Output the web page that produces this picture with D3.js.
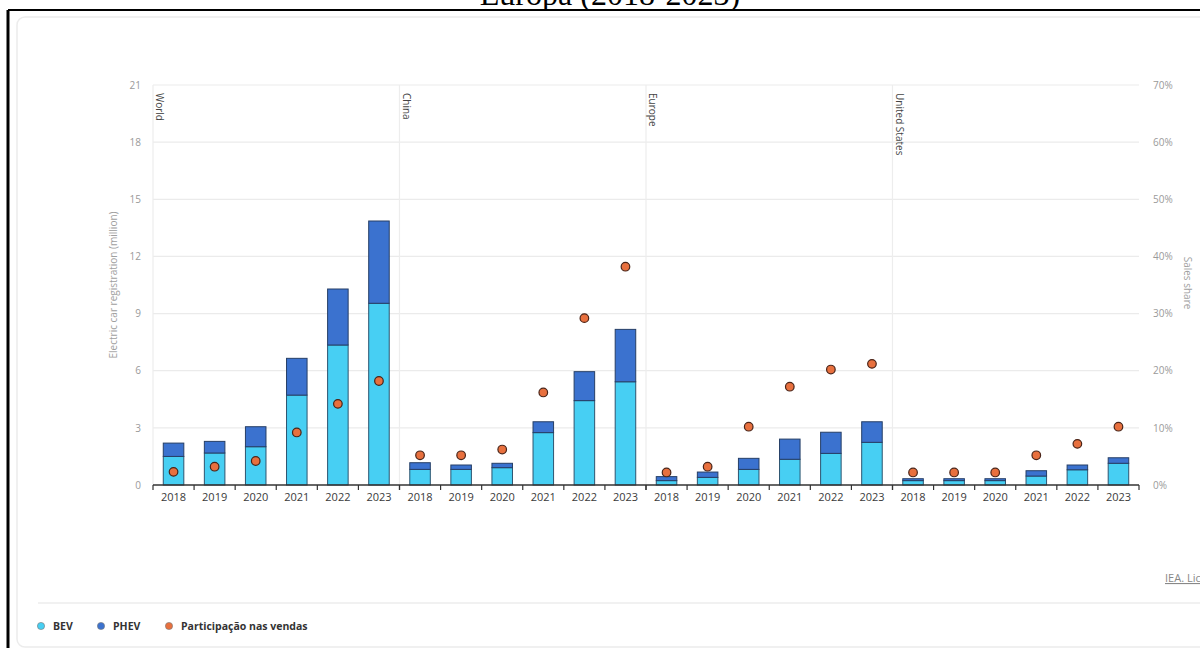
<!DOCTYPE html>
<html>
<head>
<meta charset="utf-8">
<script src="https://cdn.jsdelivr.net/npm/d3@7"></script>
<style>
  html, body { margin: 0; padding: 0; background: #fff; }
  svg { display: block; }
</style>
</head>
<body>
<svg id="chart" width="1200" height="648"></svg>
<script>
// Regions and years along the x axis
const regions = ["World", "China", "Europe", "United States"];
const years = ["2018", "2019", "2020", "2021", "2022", "2023"];

// BEV registrations (million), region by region, 2018-2023
const bev = [
  1.50, 1.68, 2.01, 4.72, 7.35, 9.54,   // World
  0.82, 0.82, 0.91, 2.75, 4.43, 5.42,   // China
  0.23, 0.40, 0.82, 1.35, 1.66, 2.24,   // Europe
  0.23, 0.23, 0.23, 0.47, 0.80, 1.14    // United States
];
// PHEV registrations (million), stacked on top of BEV
const phev = [
  0.70, 0.61, 1.05, 1.93, 2.94, 4.32,
  0.35, 0.23, 0.23, 0.57, 1.52, 2.75,
  0.21, 0.28, 0.58, 1.06, 1.11, 1.08,
  0.10, 0.10, 0.10, 0.28, 0.25, 0.29
];
// Electric car sales share (%)
const share = [
  2.3, 3.2, 4.2, 9.2, 14.2, 18.2,
  5.2, 5.2, 6.2, 16.2, 29.2, 38.2,
  2.2, 3.2, 10.2, 17.2, 20.2, 21.2,
  2.2, 2.2, 2.2, 5.2, 7.2, 10.2
];
const leftTicks = [0, 3, 6, 9, 12, 15, 18, 21];
const rightTicks = [0, 10, 20, 30, 40, 50, 60, 70];
const legendItems = ["BEV", "PHEV", "Participação nas vendas"];

const rows = [];
regions.forEach((r, i) => years.forEach((y, j) => {
  const k = i * years.length + j;
  rows.push({ region: r, year: y, bev: bev[k], phev: phev[k], share: share[k] });
}));

const FONT = "'Open Sans', 'Noto Sans', sans-serif";
const C_BEV = "#47cff3", C_PHEV = "#3b72cf", C_DOT = "#e8703e";
const svg = d3.select("#chart");

// Title line above the frame (partly cut off by the top edge)
svg.append("text")
  .attr("x", 610).attr("y", 5)
  .attr("text-anchor", "middle")
  .attr("font-family", "'Liberation Serif', 'Times New Roman', serif")
  .attr("font-size", 32).attr("fill", "#000")
  .text("Europa (2018-2023)");

// Frame and card
svg.append("rect").attr("x", 8).attr("y", 10).attr("width", 1200).attr("height", 660).attr("fill", "#fff");
svg.append("line").attr("x1", 8).attr("x2", 1200).attr("y1", 10).attr("y2", 10).attr("stroke", "#000").attr("stroke-width", 2);
svg.append("line").attr("x1", 8).attr("x2", 8).attr("y1", 10).attr("y2", 648).attr("stroke", "#000").attr("stroke-width", 3);
svg.append("rect").attr("x", 17).attr("y", 17).attr("width", 1210).attr("height", 630).attr("rx", 8)
  .attr("fill", "#fff").attr("stroke", "#ececec").attr("stroke-width", 1.5);

// Scales
const x0 = 153, x1 = 1139, yBase = 485, yTop = 85;
const xRegion = d3.scaleBand().domain(regions).range([x0, x1]);
const xYear = d3.scaleBand().domain(years).range([0, xRegion.bandwidth()])
  .paddingInner(0.5).paddingOuter(0.25);
const y = d3.scaleLinear().domain([0, 21]).range([yBase, yTop]);
const y2 = d3.scaleLinear().domain([0, 70]).range([yBase, yTop]);

// Horizontal grid
svg.append("g").selectAll("line").data(leftTicks.filter(t => t > 0)).join("line")
  .attr("x1", x0).attr("x2", x1)
  .attr("y1", d => y(d)).attr("y2", d => y(d))
  .attr("stroke", "#ebebeb").attr("stroke-width", 1.2);

// Left axis labels
const gl = svg.append("g").attr("transform", `translate(${x0 - 12},0)`)
  .call(d3.axisLeft(y).tickValues(leftTicks).tickSize(0).tickPadding(0));
gl.select(".domain").remove();
gl.selectAll("text").attr("font-family", FONT).attr("font-size", 10).attr("fill", "#9a9a9a");

// Right axis labels
const gr = svg.append("g").attr("transform", `translate(${x1 + 14},0)`)
  .call(d3.axisRight(y2).tickValues(rightTicks).tickFormat(d => d + "%").tickSize(0).tickPadding(0));
gr.select(".domain").remove();
gr.selectAll("text").attr("font-family", FONT).attr("font-size", 10).attr("fill", "#9a9a9a");

// Axis titles
svg.append("text")
  .attr("transform", `translate(117,${(yBase + yTop) / 2}) rotate(-90)`)
  .attr("text-anchor", "middle")
  .attr("font-family", FONT).attr("font-size", 10).attr("fill", "#a0a0a0")
  .text("Electric car registration (million)");
svg.append("text")
  .attr("transform", `translate(1184,${(yBase + yTop) / 2 - 2}) rotate(90)`)
  .attr("text-anchor", "middle")
  .attr("font-family", FONT).attr("font-size", 10).attr("fill", "#a0a0a0")
  .text("Sales share");

// Region separators and labels
svg.append("g").selectAll("line").data(regions).join("line")
  .attr("x1", d => xRegion(d)).attr("x2", d => xRegion(d))
  .attr("y1", yTop).attr("y2", yBase)
  .attr("stroke", "#ededed").attr("stroke-width", 1.2);
svg.append("g").selectAll("text").data(regions).join("text")
  .attr("transform", d => `translate(${xRegion(d) + 3},${yTop + 8}) rotate(90)`)
  .attr("font-family", FONT).attr("font-size", 10).attr("fill", "#444")
  .text(d => d);

// Stacked bars
const bars = svg.append("g");
bars.selectAll("rect.bev").data(rows).join("rect").attr("class", "bev")
  .attr("x", d => xRegion(d.region) + xYear(d.year))
  .attr("width", xYear.bandwidth())
  .attr("y", d => y(d.bev))
  .attr("height", d => y(0) - y(d.bev))
  .attr("fill", C_BEV).attr("stroke", "#2d5570").attr("stroke-width", 1);
bars.selectAll("rect.phev").data(rows).join("rect").attr("class", "phev")
  .attr("x", d => xRegion(d.region) + xYear(d.year))
  .attr("width", xYear.bandwidth())
  .attr("y", d => y(d.bev + d.phev))
  .attr("height", d => y(d.bev) - y(d.bev + d.phev))
  .attr("fill", C_PHEV).attr("stroke", "#263f66").attr("stroke-width", 1);

// X axis with year labels per region
regions.forEach(r => {
  const g = svg.append("g").attr("transform", `translate(${xRegion(r)},${yBase})`)
    .call(d3.axisBottom(xYear).tickSize(0).tickPadding(8));
  g.select(".domain").remove();
  g.selectAll("text").attr("font-family", FONT).attr("font-size", 11).attr("fill", "#3a3a3a");
  g.selectAll("line.sep").data(d3.range(years.length + 1)).join("line").attr("class", "sep")
    .attr("x1", i => i * xYear.step()).attr("x2", i => i * xYear.step())
    .attr("y1", 0).attr("y2", 5).attr("stroke", "#333").attr("stroke-width", 1.2);
});
svg.append("line").attr("x1", x0).attr("x2", x1).attr("y1", yBase).attr("y2", yBase)
  .attr("stroke", "#333").attr("stroke-width", 1.3);

// Sales share dots
svg.append("g").selectAll("circle").data(rows).join("circle")
  .attr("cx", d => xRegion(d.region) + xYear(d.year) + xYear.bandwidth() / 2)
  .attr("cy", d => y2(d.share))
  .attr("r", 4.3)
  .attr("fill", C_DOT).attr("stroke", "#4a2418").attr("stroke-width", 1.2);

// Source link
svg.append("text")
  .attr("x", 1165).attr("y", 582)
  .attr("font-family", FONT).attr("font-size", 11).attr("fill", "#888")
  .attr("text-decoration", "underline")
  .text("IEA. Licence: CC BY 4.0");

// Legend
svg.append("line").attr("x1", 38).attr("x2", 1200).attr("y1", 603).attr("y2", 603)
  .attr("stroke", "#ececec").attr("stroke-width", 1.5);
const legendColors = [C_BEV, C_PHEV, C_DOT];
const legendX = [41, 101, 169];
const lg = svg.append("g").selectAll("g").data(legendItems).join("g")
  .attr("transform", (d, i) => `translate(${legendX[i]},626)`);
lg.append("circle").attr("r", 3.6)
  .attr("fill", (d, i) => legendColors[i]).attr("stroke", "#777").attr("stroke-width", 0.6);
lg.append("text").attr("x", 12).attr("y", 3.8)
  .attr("font-family", FONT).attr("font-size", 10.5).attr("font-weight", 700).attr("fill", "#333")
  .text(d => d);
</script>
</body>
</html>
